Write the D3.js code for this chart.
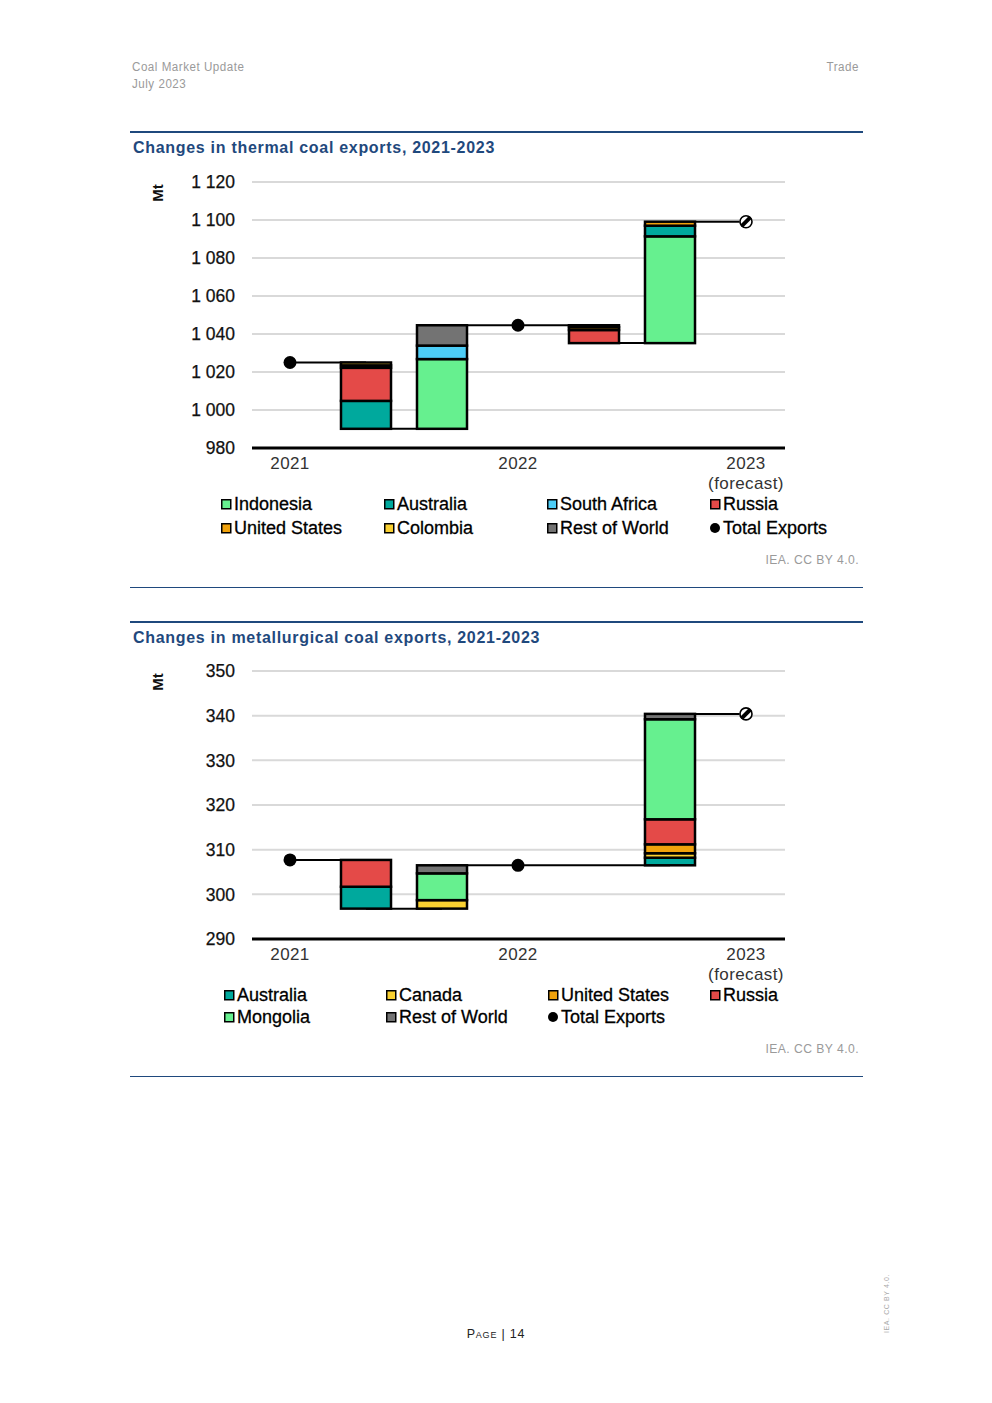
<!DOCTYPE html>
<html>
<head>
<meta charset="utf-8">
<script src="https://cdn.jsdelivr.net/npm/d3@7"></script>
<style>
  body { margin: 0; background: #fff; }
  text { font-family: "Liberation Sans", Arial, sans-serif; }
</style>
</head>
<body>
<svg id="page" width="992" height="1403"></svg>
<script>
// waterfall steps: totals at 2021 / 2022 / 2023, change bars between
const steps = ["2021", "d1", "d2", "2022", "d3", "d4", "2023"];
const stepLabels = {"2021": ["2021"], "2022": ["2022"], "2023": ["2023", "(forecast)"]};

// thermal coal (Mt), changes for d1, d2, d3, d4
const thermalNames = ["Indonesia", "Australia", "South Africa", "Russia", "United States", "Colombia", "Rest of World"];
const thermalIndonesia = [0, 36.7, 0, 56.2];
const thermalAustralia = [-14.7, 0, 0, 5.6];
const thermalSouthAfrica = [0, 7.1, 0, 0];
const thermalRussia = [-17.4, 0, -6.9, 0];
const thermalUS = [-1.3, 0, -1.5, 2.1];
const thermalColombia = [-1.5, 0, 0, 0];
const thermalRest = [0, 10.7, -1.0, 0];
const thermalTotals = [1025, 1044.6, 1099.1];
const thermalTicks = [980, 1000, 1020, 1040, 1060, 1080, 1100, 1120];

// metallurgical coal (Mt)
const metNames = ["Australia", "Canada", "United States", "Russia", "Mongolia", "Rest of World"];
const metAustralia = [-4.9, 0, 0, 1.7];
const metCanada = [0, 1.9, 0, 1.0];
const metUS = [0, 0, 0, 2.0];
const metRussia = [-6.0, 0, 0, 5.6];
const metMongolia = [0, 6.0, 0, 22.4];
const metRest = [0, 1.8, 0, 1.2];
const metTotals = [307.7, 306.5, 340.4];
const metTicks = [290, 300, 310, 320, 330, 340, 350];

const colorOf = {
  "Indonesia": "#66f08f",
  "Mongolia": "#66f08f",
  "Australia": "#00a99d",
  "South Africa": "#4dcdf7",
  "Russia": "#e44a48",
  "United States": "#f0a20c",
  "Colombia": "#f9d031",
  "Canada": "#f9d031",
  "Rest of World": "#737373"
};

const BLUE = "#1f497d";
const svg = d3.select("#page");
const fmt = d3.formatLocale({decimal: ".", thousands: " ", grouping: [3], currency: ["", ""]}).format(",");

// narrow-looking grey text (no condensed font installed, squeeze horizontally)
function narrowText(x, y, txt, anchor) {
  svg.append("text").attr("transform", `translate(${x},${y}) scale(0.86,1)`)
    .attr("text-anchor", anchor || "start").attr("font-size", 13.5).attr("fill", "#9a9a9a")
    .attr("letter-spacing", 0.6).text(txt);
}

// page header / footer
narrowText(132, 71, "Coal Market Update");
narrowText(132, 88, "July 2023");
narrowText(859, 71, "Trade", "end");
svg.append("text").attr("x", 496).attr("y", 1338).attr("text-anchor", "middle")
  .attr("font-size", 12.5).attr("fill", "#222").attr("font-variant", "small-caps").attr("letter-spacing", 0.8)
  .text("Page | 14");
svg.append("text").attr("transform", "translate(889,1333) rotate(-90)")
  .attr("font-size", 7).attr("fill", "#aaa").attr("letter-spacing", 0.6).text("IEA. CC BY 4.0.");

function drawChart(cfg) {
  const g = svg.append("g");
  // frame rules + title
  g.append("line").attr("x1", 130).attr("x2", 863).attr("y1", cfg.top).attr("y2", cfg.top)
    .attr("stroke", BLUE).attr("stroke-width", 2);
  g.append("line").attr("x1", 130).attr("x2", 863).attr("y1", cfg.bottom + 0.5).attr("y2", cfg.bottom + 0.5)
    .attr("stroke", BLUE).attr("stroke-width", 1);
  g.append("text").attr("x", 133).attr("y", cfg.top + 21).attr("font-size", 16).attr("font-weight", "bold")
    .attr("fill", BLUE).attr("letter-spacing", 0.7).text(cfg.title);

  const y = d3.scaleLinear().domain(cfg.yDomain).range(cfg.yRange);
  const x = d3.scaleBand().domain(steps).range([252, 784]).paddingInner(0.342).paddingOuter(0.171);
  const cx = (s) => x(s) + x.bandwidth() / 2;

  // gridlines and y labels
  g.selectAll(".grid").data(cfg.ticks.slice(1)).enter().append("line")
    .attr("x1", 252).attr("x2", 785).attr("y1", (d) => y(d)).attr("y2", (d) => y(d))
    .attr("stroke", "#d9d9d9").attr("stroke-width", 2);
  g.selectAll(".ylab").data(cfg.ticks).enter().append("text")
    .attr("x", 235).attr("y", (d) => y(d)).attr("dy", "0.36em").attr("text-anchor", "end")
    .attr("font-size", 17.5).attr("fill", "#111").attr("stroke", "#111").attr("stroke-width", 0.25)
    .text((d) => fmt(d));
  g.append("text").attr("transform", `translate(163,${cfg.yRange[1] + 11}) rotate(-90)`)
    .attr("text-anchor", "middle").attr("font-size", 15).attr("font-weight", "bold").attr("fill", "#111").text("Mt");

  // running levels
  const levels = [];
  let level = cfg.totals[0], ci = 0, ti = 0;
  const bars = [];
  steps.forEach((s) => {
    if (stepLabels[s]) {
      level = cfg.totals[ti++];
    } else {
      const start = level;
      const changes = cfg.values.map((v) => v[ci]);
      level = start + d3.sum(changes);
      let acc = Math.min(start, level);
      changes.forEach((v, k) => {
        if (v !== 0) {
          bars.push({step: s, name: cfg.names[k], y0: acc, y1: acc + Math.abs(v)});
          acc += Math.abs(v);
        }
      });
      ci++;
    }
    levels.push(level);
  });

  // connector lines
  for (let i = 0; i < steps.length - 1; i++) {
    g.append("line").attr("x1", cx(steps[i])).attr("x2", cx(steps[i + 1]))
      .attr("y1", y(levels[i])).attr("y2", y(levels[i]))
      .attr("stroke", "#000").attr("stroke-width", 2);
  }

  g.selectAll(".bar").data(bars).enter().append("rect")
    .attr("x", (d) => x(d.step)).attr("width", x.bandwidth())
    .attr("y", (d) => y(d.y1)).attr("height", (d) => y(d.y0) - y(d.y1))
    .attr("fill", (d) => colorOf[d.name]).attr("stroke", "#000").attr("stroke-width", 2.5);

  // x axis
  g.append("line").attr("x1", 252).attr("x2", 785).attr("y1", y(cfg.yDomain[0])).attr("y2", y(cfg.yDomain[0]))
    .attr("stroke", "#000").attr("stroke-width", 3);
  Object.keys(stepLabels).forEach((s) => {
    stepLabels[s].forEach((t, j) => {
      g.append("text").attr("x", cx(s)).attr("y", y(cfg.yDomain[0]) + 21 + j * 20)
        .attr("text-anchor", "middle").attr("font-size", 17).attr("fill", "#333")
        .attr("letter-spacing", 0.4).text(t);
    });
  });

  // total dots
  const totalSteps = Object.keys(stepLabels);
  totalSteps.forEach((s, i) => {
    const px = cx(s), py = y(cfg.totals[i]);
    if (i < totalSteps.length - 1) {
      g.append("circle").attr("cx", px).attr("cy", py).attr("r", 6.5).attr("fill", "#000");
    } else {
      const clipId = "clip" + cfg.top;
      g.append("clipPath").attr("id", clipId).append("circle").attr("cx", px).attr("cy", py).attr("r", 6.5);
      g.append("circle").attr("cx", px).attr("cy", py).attr("r", 6.5).attr("fill", "#fff");
      g.append("line").attr("clip-path", `url(#${clipId})`)
        .attr("x1", px - 7).attr("y1", py + 7).attr("x2", px + 7).attr("y2", py - 7)
        .attr("stroke", "#000").attr("stroke-width", 4);
      g.append("circle").attr("cx", px).attr("cy", py).attr("r", 6).attr("fill", "none")
        .attr("stroke", "#000").attr("stroke-width", 1.6);
    }
  });

  // legend
  const items = cfg.names.concat(["Total Exports"]);
  items.forEach((name, i) => {
    const lx = cfg.legendX[i % 4], ly = cfg.legendY[Math.floor(i / 4)];
    if (name === "Total Exports") {
      g.append("circle").attr("cx", lx + 5).attr("cy", ly).attr("r", 5).attr("fill", "#000");
    } else {
      g.append("rect").attr("x", lx + 0.75).attr("y", ly - 4.25).attr("width", 9).attr("height", 9)
        .attr("fill", colorOf[name]).attr("stroke", "#000").attr("stroke-width", 1.5);
    }
    g.append("text").attr("x", lx + 13).attr("y", ly).attr("dy", "0.36em")
      .attr("font-size", 18).attr("fill", "#000").attr("stroke", "#000").attr("stroke-width", 0.3)
      .text(name);
  });

  g.append("text").attr("transform", `translate(859,${cfg.bottom - 23}) scale(0.9,1)`).attr("text-anchor", "end")
    .attr("font-size", 13.5).attr("fill", "#9a9a9a").attr("letter-spacing", 0.5)
    .text("IEA. CC BY 4.0.");
}

drawChart({
  top: 132, bottom: 587,
  title: "Changes in thermal coal exports, 2021-2023",
  yDomain: [980, 1120], yRange: [448, 182], ticks: thermalTicks,
  names: thermalNames,
  values: [thermalIndonesia, thermalAustralia, thermalSouthAfrica, thermalRussia, thermalUS, thermalColombia, thermalRest],
  totals: thermalTotals,
  legendX: [221, 384, 547, 710], legendY: [504, 528]
});

drawChart({
  top: 622, bottom: 1076,
  title: "Changes in metallurgical coal exports, 2021-2023",
  yDomain: [290, 350], yRange: [939, 671], ticks: metTicks,
  names: metNames,
  values: [metAustralia, metCanada, metUS, metRussia, metMongolia, metRest],
  totals: metTotals,
  legendX: [224, 386, 548, 710], legendY: [995, 1017]
});
</script>
</body>
</html>
